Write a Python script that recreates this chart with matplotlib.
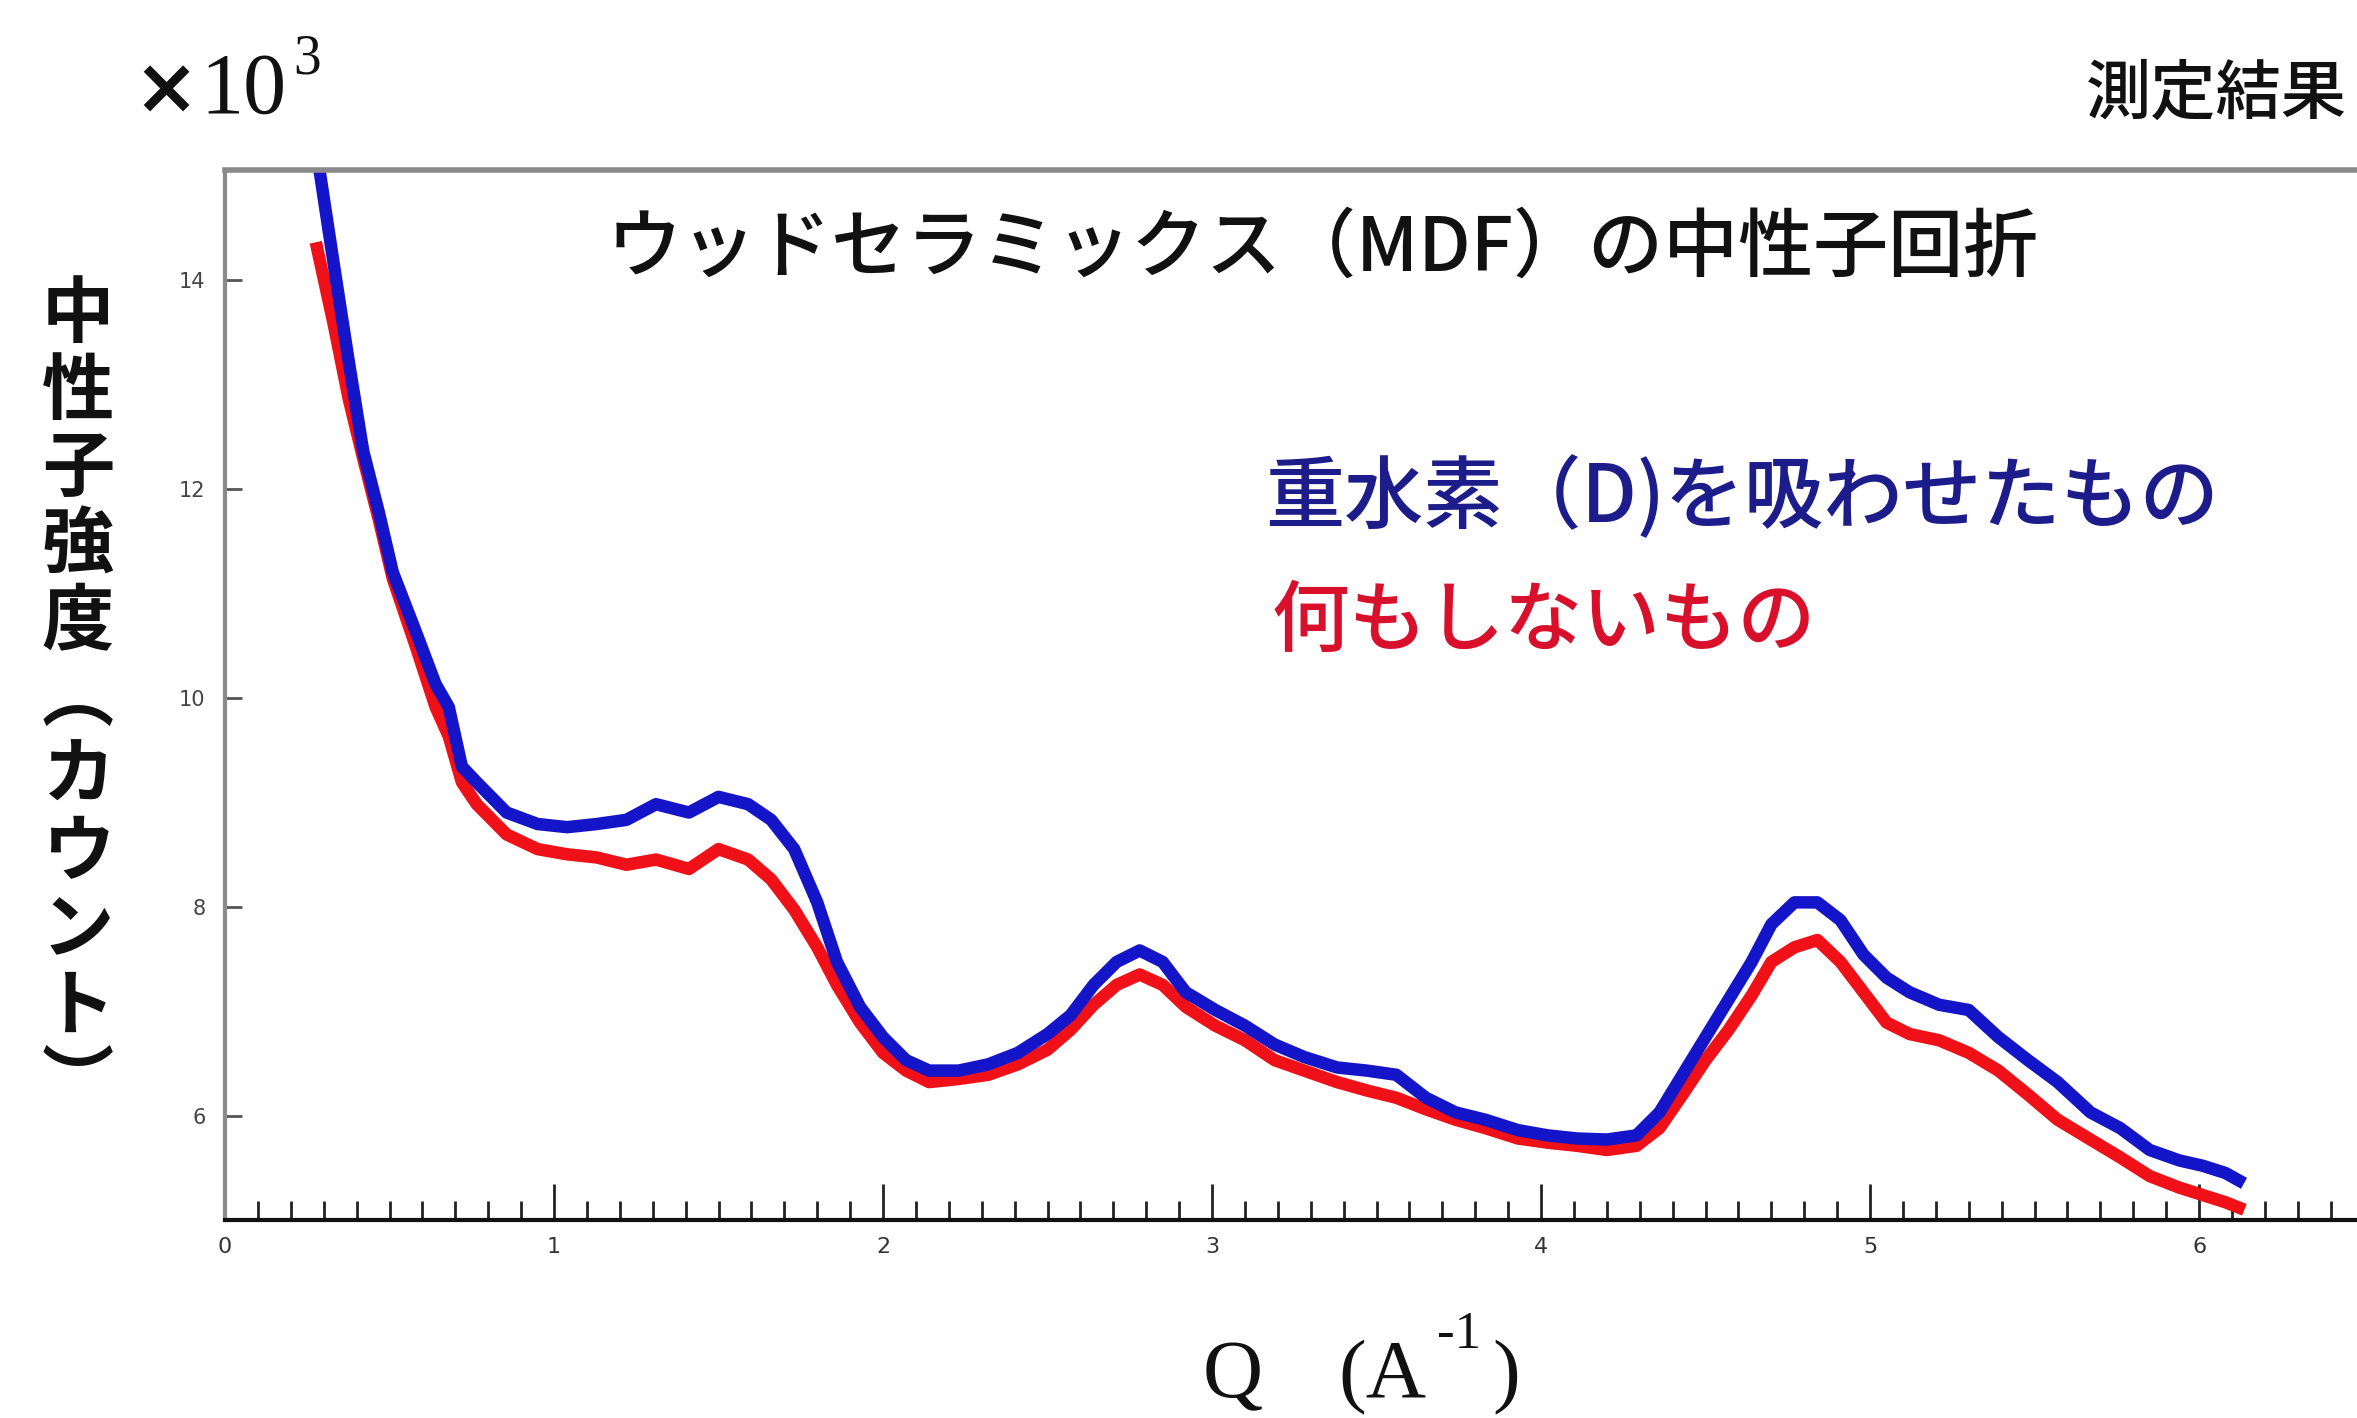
import matplotlib
matplotlib.use("Agg")
import matplotlib.pyplot as plt
from matplotlib.ticker import MultipleLocator, FixedLocator

CJK = ['Noto Sans CJK JP', 'DejaVu Sans']

# ---- data (Q in 1/A, intensity in 10^3 counts) ----
q_values = [0.28, 0.33, 0.376, 0.42, 0.467, 0.51, 0.58, 0.64, 0.68, 0.72, 0.765,
            0.856, 0.95, 1.04, 1.13, 1.22, 1.31, 1.41, 1.50, 1.59, 1.66, 1.73,
            1.80, 1.86, 1.93, 2.00, 2.07, 2.14, 2.23, 2.32, 2.41, 2.50, 2.57,
            2.64, 2.71, 2.78, 2.85, 2.92, 3.01, 3.10, 3.19, 3.28, 3.38, 3.47,
            3.56, 3.65, 3.74, 3.83, 3.93, 4.02, 4.11, 4.20, 4.29, 4.36, 4.43,
            4.50, 4.57, 4.64, 4.70, 4.77, 4.84, 4.91, 4.98, 5.05, 5.12, 5.21,
            5.30, 5.39, 5.48, 5.57, 5.67, 5.76, 5.85, 5.94, 6.01, 6.08, 6.12]

deuterium = [15.2, 14.16, 13.22, 12.36, 11.78, 11.2, 10.63, 10.13, 9.91, 9.34, 9.19,
             8.9, 8.79, 8.76, 8.79, 8.83, 8.98, 8.9, 9.05, 8.98, 8.83, 8.55,
             8.04, 7.47, 7.04, 6.75, 6.53, 6.43, 6.43, 6.49, 6.6, 6.78, 6.96,
             7.25, 7.47, 7.58, 7.47, 7.18, 7.01, 6.86, 6.68, 6.56, 6.46, 6.43,
             6.39, 6.17, 6.03, 5.96, 5.86, 5.81, 5.78, 5.77, 5.81, 6.03, 6.39,
             6.75, 7.11, 7.47, 7.83, 8.04, 8.04, 7.87, 7.54, 7.32, 7.18, 7.06,
             7.01, 6.75, 6.53, 6.32, 6.03, 5.88, 5.67, 5.57, 5.52, 5.45, 5.38]

untreated = [14.3, 13.58, 12.86, 12.29, 11.71, 11.14, 10.49, 9.91, 9.63, 9.19, 8.98,
             8.69, 8.55, 8.5, 8.47, 8.4, 8.45, 8.36, 8.55, 8.45, 8.26, 7.97,
             7.61, 7.25, 6.89, 6.6, 6.43, 6.32, 6.35, 6.39, 6.49, 6.63, 6.82,
             7.06, 7.25, 7.35, 7.25, 7.04, 6.86, 6.72, 6.53, 6.43, 6.32, 6.24,
             6.17, 6.06, 5.96, 5.88, 5.78, 5.74, 5.71, 5.67, 5.71, 5.88, 6.2,
             6.53, 6.82, 7.15, 7.47, 7.61, 7.68, 7.47, 7.18, 6.89, 6.78, 6.72,
             6.6, 6.43, 6.2, 5.96, 5.77, 5.6, 5.42, 5.31, 5.24, 5.17, 5.12]

x_ticks = [0, 1, 2, 3, 4, 5, 6]
y_ticks = [6, 8, 10, 12, 14]

title_text = "ウッドセラミックス（MDF）の中性子回折"
label_d = "重水素（D)を吸わせたもの"
label_n = "何もしないもの"
ylabel_chars = ["中", "性", "子", "強", "度", "︵", "カ", "ウ", "ン", "ト", "︶"]
corner_text = "測定結果"

# ---- figure ----
W, H, DPI = 2357, 1418, 100
fig = plt.figure(figsize=(W / DPI, H / DPI), dpi=DPI, facecolor="white")
ax = fig.add_axes([225 / W, 1 - 1220 / H, 1 - 225 / W, (1220 - 170) / H])

ax.plot(q_values, untreated, color="#f01018", lw=9, solid_joinstyle="round")
ax.plot(q_values, deuterium, color="#1414c8", lw=9, solid_joinstyle="round")

ax.set_xlim(0, 6.48)
ax.set_ylim(5.0, 15.05)

ax.xaxis.set_major_locator(FixedLocator(x_ticks))
ax.xaxis.set_minor_locator(MultipleLocator(0.1))
ax.yaxis.set_major_locator(FixedLocator(y_ticks))
ax.set_xticklabels([str(v) for v in x_ticks])
ax.set_yticklabels([str(v) for v in y_ticks])

ax.tick_params(axis="x", which="major", direction="in", length=26, width=2,
               color="#222222", labelsize=16, labelcolor="#333333", pad=12)
ax.tick_params(axis="x", which="minor", direction="in", length=14, width=2,
               color="#222222")
ax.tick_params(axis="y", which="major", direction="in", length=12, width=2,
               color="#555555", labelsize=15, labelcolor="#444444", pad=14)

ax.spines["right"].set_visible(False)
ax.spines["left"].set_color("#8a8a8a")
ax.spines["left"].set_linewidth(3)
ax.spines["top"].set_color("#8a8a8a")
ax.spines["top"].set_linewidth(4)
ax.spines["bottom"].set_color("#111111")
ax.spines["bottom"].set_linewidth(3)

# ---- texts ----
fig.text(1323 / W, 1 - 250 / H, title_text, family=CJK, fontsize=54,
         fontweight="medium", ha="center", va="center", color="#111111")
fig.text(1265 / W, 1 - 498 / H, label_d, family=CJK, fontsize=57,
         fontweight="medium", ha="left", va="center", color="#1c1c8a")
fig.text(1272 / W, 1 - 622 / H, label_n, family=CJK, fontsize=56,
         fontweight="medium", ha="left", va="center", color="#d8102c")
fig.text(2347 / W, 1 - 95 / H, corner_text, family=CJK, fontsize=47,
         fontweight="medium", ha="right", va="center", color="#111111")
fig.text(78 / W, 1 - 700 / H, "\n".join(ylabel_chars), family=CJK,
         fontsize=52, fontweight="bold", ha="center", va="center",
         linespacing=1.04, color="#111111")

fig.text(133 / W, 1 - 92 / H, "×", family=["DejaVu Sans"], fontsize=56,
         fontweight="bold", ha="left", va="center", color="#111111")
fig.text(200 / W, 1 - 92 / H, "10", family=["Liberation Serif"], fontsize=62,
         ha="left", va="center", color="#111111")
fig.text(293 / W, 1 - 60 / H, "3", family=["Liberation Serif"], fontsize=40,
         ha="left", va="center", color="#111111")

fig.text(1203 / W, 1 - 1378 / H, "Q", family=["Liberation Serif"], fontsize=60,
         ha="left", va="center", color="#111111")
fig.text(1338 / W, 1 - 1378 / H, "(A", family=["Liberation Serif"], fontsize=60,
         ha="left", va="center", color="#111111")
fig.text(1437 / W, 1 - 1335 / H, "-1", family=["Liberation Serif"], fontsize=38,
         ha="left", va="center", color="#111111")
fig.text(1492 / W, 1 - 1378 / H, ")", family=["Liberation Serif"], fontsize=60,
         ha="left", va="center", color="#111111")

fig.savefig("out.png", dpi=DPI, facecolor="white")
